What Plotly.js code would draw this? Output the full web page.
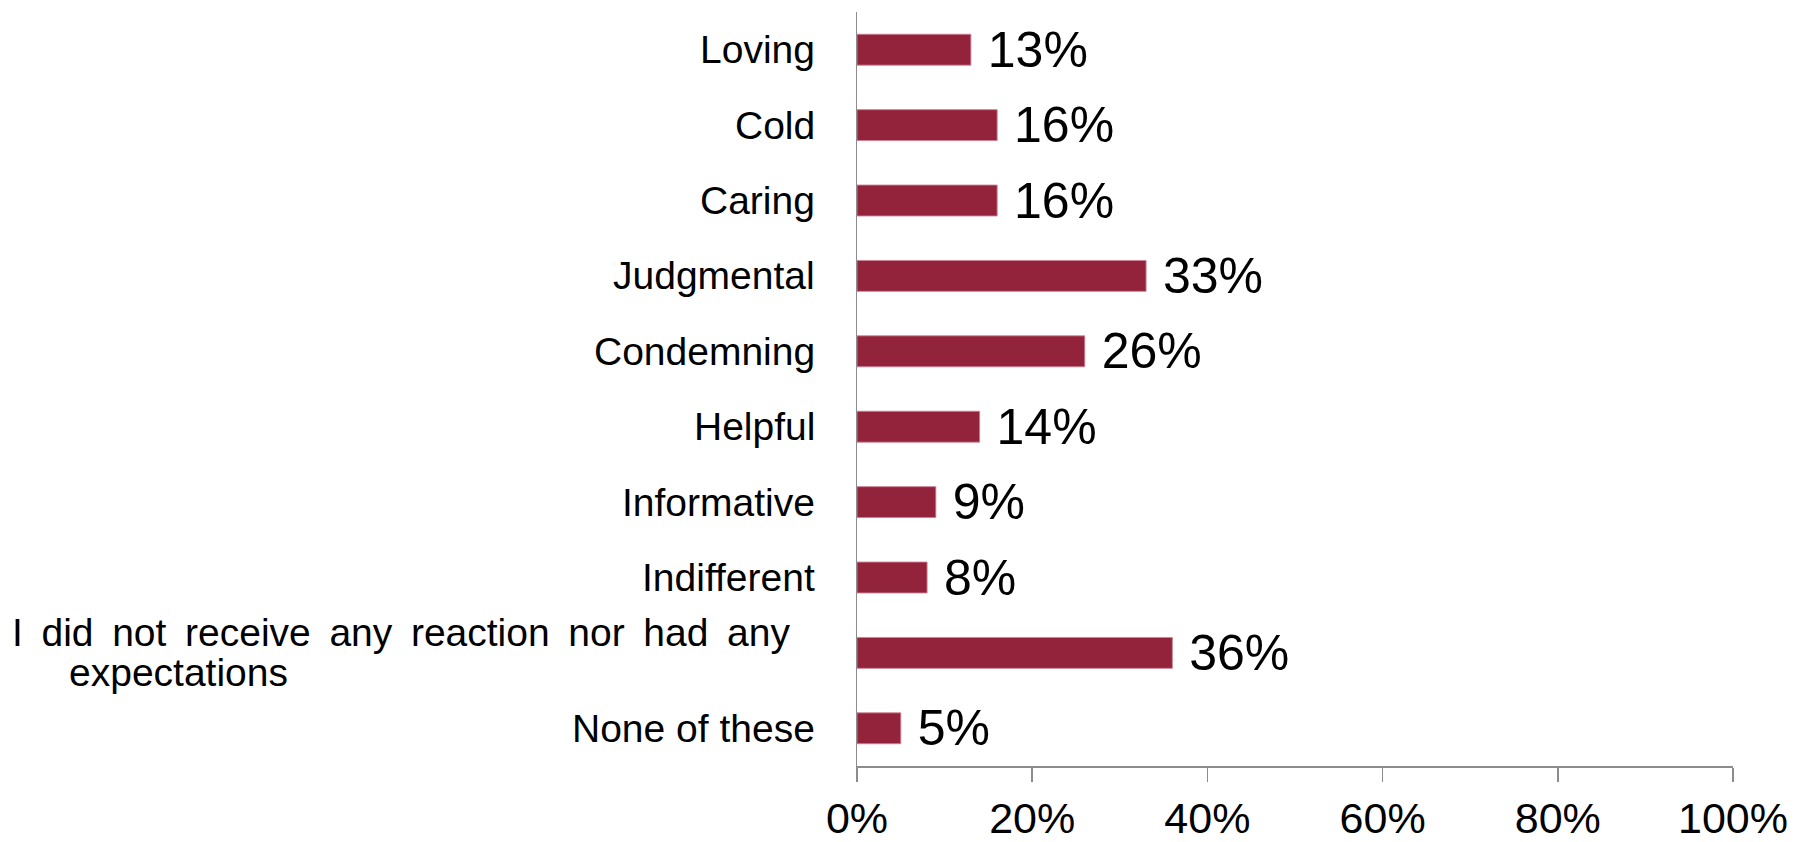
<!DOCTYPE html>
<html>
<head>
<meta charset="utf-8">
<script src="https://cdn.plot.ly/plotly-3.0.1.min.js"></script>
<style>
html, body { margin: 0; padding: 0; background: #fff; }
#chart { width: 1798px; height: 842px; }
</style>
</head>
<body>
<div id="chart"></div>
<script>
var categories = ["Loving", "Cold", "Caring", "Judgmental", "Condemning", "Helpful", "Informative", "Indifferent", "I did not receive any reaction nor had any expectations", "None of these"];
var categoryLabelLines = [["Loving"], ["Cold"], ["Caring"], ["Judgmental"], ["Condemning"], ["Helpful"], ["Informative"], ["Indifferent"], ["I did not receive any reaction nor had any", "expectations"], ["None of these"]];
var values = [13, 16, 16, 33, 26, 14, 9, 8, 36, 5];
var xTickValues = [0, 20, 40, 60, 80, 100];
var xTickLabels = ["0%", "20%", "40%", "60%", "80%", "100%"];

var fontFamily = "Arial, 'Liberation Sans', sans-serif";

var trace = {
  type: "bar",
  orientation: "h",
  y: categories,
  x: values,
  marker: { color: "#93233b", line: { color: "rgba(205,130,150,0.9)", width: 1 } },
  text: values.map(function (v) { return " " + v + "%"; }),
  textposition: "outside",
  constraintext: "none",
  cliponaxis: false,
  textfont: { family: fontFamily, size: 50, color: "#000" },
  hoverinfo: "x+y"
};

var annotations = [];
categories.forEach(function (c, i) {
  var lines = categoryLabelLines[i];
  if (lines.length === 1) {
    annotations.push({
      xref: "paper", yref: "y", x: 0, y: c,
      xanchor: "right", yanchor: "middle", xshift: -41,
      showarrow: false, text: lines[0], borderpad: 0,
      font: { family: fontFamily, size: 39, color: "#000" }
    });
  } else {
    annotations.push({
      xref: "paper", yref: "y", x: 0, y: c,
      xanchor: "right", yanchor: "middle", xshift: -66, yshift: 20,
      showarrow: false, text: lines[0].split(" ").join(" &#8201;"), borderpad: 0,
      font: { family: fontFamily, size: 39, color: "#000" }
    });
    annotations.push({
      xref: "paper", yref: "y", x: 0, y: c,
      xanchor: "right", yanchor: "middle", xshift: -568, yshift: -20,
      showarrow: false, text: lines[1], borderpad: 0,
      font: { family: fontFamily, size: 39, color: "#000" }
    });
  }
});

var layout = {
  width: 1798,
  height: 842,
  margin: { l: 857, r: 65, t: 12, b: 76 },
  paper_bgcolor: "#fff",
  plot_bgcolor: "#fff",
  showlegend: false,
  bargap: 0.59,
  xaxis: {
    range: [0, 100],
    tickvals: xTickValues,
    ticktext: xTickLabels,
    showgrid: false,
    zeroline: false,
    showline: true,
    linecolor: "#8c8c8c",
    linewidth: 1.5,
    ticks: "outside",
    ticklen: 14,
    tickwidth: 1.5,
    tickcolor: "#8c8c8c",
    tickfont: { family: fontFamily, size: 43, color: "#000" },
    fixedrange: true
  },
  yaxis: {
    categoryorder: "array",
    categoryarray: categories,
    autorange: "reversed",
    showticklabels: false,
    showgrid: false,
    zeroline: false,
    showline: true,
    linecolor: "#8c8c8c",
    linewidth: 1.5,
    ticks: "",
    fixedrange: true
  },
  annotations: annotations
};

Plotly.newPlot("chart", [trace], layout, { displayModeBar: false, staticPlot: true });
</script>
</body>
</html>
